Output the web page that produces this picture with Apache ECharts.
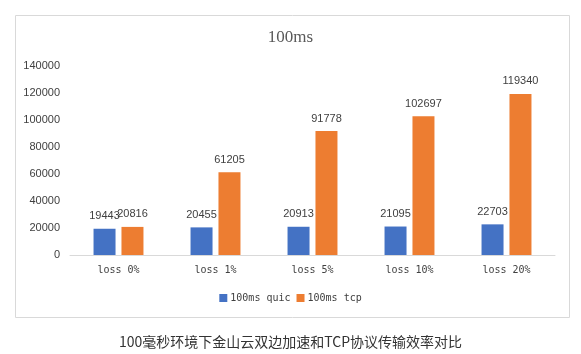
<!DOCTYPE html>
<html>
<head>
<meta charset="utf-8">
<script src="https://cdn.jsdelivr.net/npm/echarts@6/dist/echarts.min.js"></script>
<style>
  html, body { margin: 0; padding: 0; background: #fff; }
  #main { width: 581px; height: 354px; }
</style>
</head>
<body>
<div id="main"></div>
<script>
var categories = ['loss 0%', 'loss 1%', 'loss 5%', 'loss 10%', 'loss 20%'];
var quicValues = [19443, 20455, 20913, 21095, 22703];
var tcpValues = [20816, 61205, 91778, 102697, 119340];
var seriesNames = ['100ms quic', '100ms tcp'];

var chart = echarts.init(document.getElementById('main'));

var labelStyle = {
  show: true,
  position: 'top',
  distance: 7,
  color: '#404040',
  fontSize: 11,
  fontFamily: 'Liberation Sans'
};

var option = {
  animation: false,
  title: [{
    text: '100ms',
    left: 'center',
    top: 24,
    textStyle: { fontFamily: 'Liberation Serif', fontSize: 17, fontWeight: 'normal', color: '#595959' }
  }, {
    text: '100毫秒环境下金山云双边加速和TCP协议传输效率对比',
    left: 'center',
    top: 330,
    textStyle: { fontFamily: 'Noto Sans CJK SC', fontSize: 14, fontWeight: 'normal', color: '#333' }
  }],
  graphic: [{
    type: 'rect',
    shape: { x: 15.5, y: 15.5, width: 554, height: 302 },
    style: { fill: 'none', stroke: '#d9d9d9', lineWidth: 1 }
  }],
  legend: {
    data: seriesNames,
    bottom: 46,
    left: 'center',
    itemWidth: 8,
    itemHeight: 8,
    itemGap: 6,
    icon: 'rect',
    textStyle: { fontFamily: 'DejaVu Sans Mono', fontSize: 10, color: '#404040', padding: [0, 0, 0, -2] }
  },
  grid: { left: 70, right: 26, top: 66, bottom: 99 },
  xAxis: {
    type: 'category',
    data: categories,
    axisTick: { show: false },
    axisLine: { lineStyle: { color: '#d9d9d9' } },
    axisLabel: { margin: 10, fontFamily: 'DejaVu Sans Mono', fontSize: 10, color: '#404040' }
  },
  yAxis: {
    type: 'value',
    min: 0,
    max: 140000,
    interval: 20000,
    splitLine: { show: false },
    axisLine: { show: false },
    axisTick: { show: false },
    axisLabel: { margin: 10, fontFamily: 'Liberation Sans', fontSize: 11, color: '#404040', formatter: function (v) { return String(v); } }
  },
  series: [{
    name: seriesNames[0],
    type: 'bar',
    data: quicValues,
    barWidth: 22,
    barGap: '27%',
    itemStyle: { color: '#4472C4' },
    label: labelStyle
  }, {
    name: seriesNames[1],
    type: 'bar',
    data: tcpValues,
    barWidth: 22,
    barGap: '27%',
    itemStyle: { color: '#ED7D31' },
    label: labelStyle
  }]
};

chart.setOption(option);
</script>
</body>
</html>
